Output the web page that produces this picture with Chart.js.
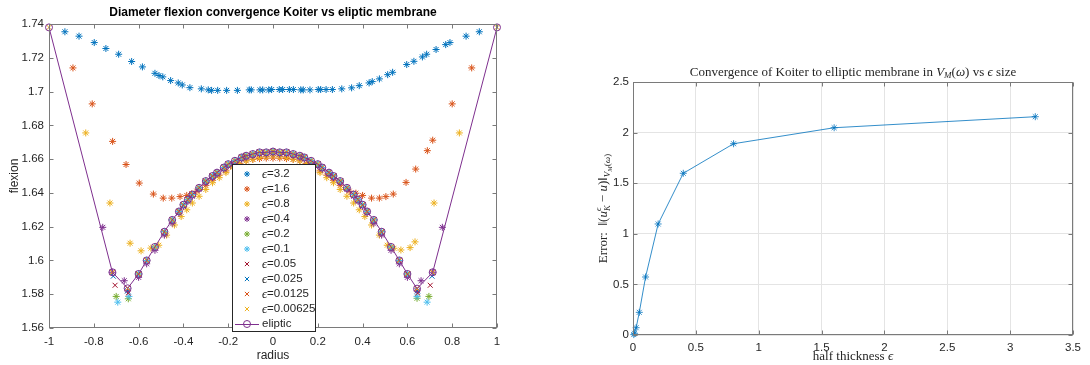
<!DOCTYPE html>
<html>
<head>
<meta charset="UTF-8">
<title>Koiter vs eliptic membrane</title>
<script src="https://cdn.jsdelivr.net/npm/chart.js"></script>
<style>
    body { margin: 0; background: #fff; width: 1090px; height: 365px; overflow: hidden; position: relative; }
    #left { position: absolute; left: 0; top: 0; }
    #right { position: absolute; left: 560px; top: 0; }
</style>
</head>
<body>
<canvas id="left" width="520" height="365"></canvas>
<canvas id="right" width="530" height="365"></canvas>
<script>
const SANS = '"Liberation Sans", Arial, sans-serif';
const SERIF = '"Liberation Serif", "DejaVu Serif", serif';
const AXIS = '#262626';

// ---------- left plot: diameter flexion ----------
const xTicksLeft = [-1, -0.8, -0.6, -0.4, -0.2, 0, 0.2, 0.4, 0.6, 0.8, 1];
const yTicksLeft = [1.56, 1.58, 1.6, 1.62, 1.64, 1.66, 1.68, 1.7, 1.72, 1.74];

// eps = 3.2
const x32 = [-0.929, -0.866, -0.798, -0.746, -0.689, -0.631, -0.583, -0.527, -0.509, -0.492,
             -0.457, -0.423, -0.405, -0.371, -0.320, -0.289, -0.274, -0.247, -0.207, -0.159,
             -0.106, -0.097, -0.058, -0.046, -0.019, -0.006, 0.028, 0.043, 0.073, 0.091,
             0.124, 0.135, 0.165, 0.202, 0.213, 0.237, 0.265, 0.307, 0.351, 0.385,
             0.429, 0.443, 0.475, 0.512, 0.534, 0.597, 0.629, 0.667, 0.686, 0.728,
             0.771, 0.790, 0.862, 0.921];
const y32 = [1.7354, 1.7328, 1.7290, 1.7255, 1.7221, 1.7178, 1.7146, 1.7108, 1.7095, 1.7087,
             1.7065, 1.7051, 1.7039, 1.7023, 1.7016, 1.7010, 1.7007, 1.7007, 1.7007, 1.7007,
             1.7010, 1.7010, 1.7010, 1.7010, 1.7010, 1.7012, 1.7012, 1.7012, 1.7012, 1.7012,
             1.7010, 1.7010, 1.7010, 1.7012, 1.7012, 1.7012, 1.7012, 1.7016, 1.7022, 1.7035,
             1.7051, 1.7059, 1.7075, 1.7100, 1.7114, 1.7160, 1.7179, 1.7205, 1.7221, 1.7249,
             1.7278, 1.7290, 1.7328, 1.7354];

// eps = 1.6
const x16 = [-0.893, -0.807, -0.716, -0.656, -0.597, -0.534, -0.490, -0.452, -0.415, -0.385,
             -0.363, -0.340, -0.300, -0.270, -0.240, -0.210, -0.180, -0.150, -0.120, -0.090,
             -0.060, -0.030, 0.000, 0.030, 0.060, 0.090, 0.120, 0.150, 0.180, 0.210,
             0.240, 0.270, 0.300, 0.340, 0.370, 0.400, 0.440, 0.475, 0.504, 0.537,
             0.594, 0.637, 0.689, 0.713, 0.800, 0.887];
const y16 = [1.7140, 1.6927, 1.6705, 1.6568, 1.6458, 1.6393, 1.6369, 1.6369, 1.6378, 1.6385,
             1.6395, 1.6410, 1.6445, 1.6475, 1.6505, 1.6530, 1.6555, 1.6575, 1.6590, 1.6598,
             1.6603, 1.6606, 1.6606, 1.6606, 1.6603, 1.6598, 1.6590, 1.6575, 1.6555, 1.6530,
             1.6505, 1.6475, 1.6445, 1.6410, 1.6398, 1.6385, 1.6369, 1.6369, 1.6378, 1.6393,
             1.6462, 1.6541, 1.6650, 1.6712, 1.6927, 1.7140];

// eps = 0.8
const x08 = [-0.836, -0.728, -0.638, -0.589, -0.545, -0.510, -0.475, -0.440, -0.410, -0.385,
             -0.360, -0.330, -0.300, -0.270, -0.240, -0.210, -0.180, -0.150, -0.120, -0.090,
             -0.060, -0.030, 0.000, 0.030, 0.060, 0.090, 0.120, 0.150, 0.180, 0.210,
             0.240, 0.270, 0.300, 0.330, 0.360, 0.385, 0.410, 0.440, 0.475, 0.510,
             0.540, 0.571, 0.612, 0.634, 0.719, 0.832];
const y08 = [1.6755, 1.6340, 1.6102, 1.6057, 1.6073, 1.609, 1.615, 1.621, 1.626, 1.630,
             1.634, 1.638, 1.642, 1.646, 1.649, 1.652, 1.655, 1.657, 1.659, 1.660,
             1.661, 1.6615, 1.662, 1.6615, 1.661, 1.660, 1.659, 1.657, 1.655, 1.652,
             1.649, 1.646, 1.642, 1.638, 1.634, 1.630, 1.626, 1.621, 1.615, 1.609,
             1.6072, 1.6062, 1.6076, 1.611, 1.634, 1.6755];

// inner arc nodes shared by the thin shells and the elliptic solution
const arcX = [-0.600, -0.564, -0.527, -0.485, -0.450, -0.420, -0.400, -0.380, -0.360, -0.330,
              -0.300, -0.270, -0.250, -0.220, -0.200, -0.170, -0.140, -0.120, -0.090, -0.060,
              -0.030, 0.000, 0.030, 0.060, 0.090, 0.120, 0.140, 0.170, 0.200, 0.220,
              0.250, 0.270, 0.300, 0.330, 0.360, 0.380, 0.400, 0.420, 0.450, 0.485,
              0.527, 0.564, 0.600];
const arcY = [1.592, 1.600, 1.608, 1.617, 1.624, 1.629, 1.633, 1.636, 1.639, 1.643,
              1.647, 1.650, 1.652, 1.655, 1.657, 1.659, 1.661, 1.662, 1.663, 1.664,
              1.664, 1.6645, 1.664, 1.664, 1.663, 1.662, 1.661, 1.659, 1.657, 1.655,
              1.652, 1.650, 1.647, 1.643, 1.639, 1.636, 1.633, 1.629, 1.624, 1.617,
              1.608, 1.600, 1.592];
const arc04Y = [1.590, 1.598, 1.606, 1.615, 1.622, 1.628, 1.632, 1.635, 1.638, 1.642,
                1.646, 1.649, 1.651, 1.654, 1.656, 1.658, 1.660, 1.661, 1.662, 1.663,
                1.663, 1.6635, 1.663, 1.663, 1.662, 1.661, 1.660, 1.658, 1.656, 1.654,
                1.651, 1.649, 1.646, 1.642, 1.638, 1.635, 1.632, 1.628, 1.622, 1.615,
                1.606, 1.598, 1.590];

const x04 = [-0.760, -0.717, -0.664, -0.649, ...arcX, 0.643, 0.661, 0.713, 0.756];
const y04 = [1.6196, 1.593, 1.588, 1.582, ...arc04Y, 1.582, 1.588, 1.593, 1.6196];
const x02 = [-0.700, -0.646, ...arcX, 0.643, 0.696];
const y02 = [1.5787, 1.5773, ...arcY, 1.5776, 1.5787];
const x01 = [-0.693, -0.643, ...arcX, 0.643, 0.688];
const y01 = [1.5753, 1.5787, ...arcY, 1.5787, 1.5753];
const x005 = [-0.705, -0.646, ...arcX, 0.646, 0.702];
const y005 = [1.5853, 1.5807, ...arcY, 1.5807, 1.5853];
const x0025 = [-0.713, -0.649, ...arcX, 0.646, 0.710];
const y0025 = [1.5907, 1.582, ...arcY, 1.582, 1.5907];
const x00125 = [-0.717, -0.649, ...arcX, 0.643, 0.713];
const y00125 = [1.5928, 1.5835, ...arcY, 1.5833, 1.5928];
const xEl = [-1, -0.717, -0.649, ...arcX, 0.643, 0.713, 1];
const yEl = [1.738, 1.593, 1.5835, ...arcY, 1.5833, 1.593, 1.738];

const series = [
    { label: '3.2', color: '#0072BD', style: 'star', x: x32, y: y32 },
    { label: '1.6', color: '#D95319', style: 'star', x: x16, y: y16 },
    { label: '0.8', color: '#EDB120', style: 'star', x: x08, y: y08 },
    { label: '0.4', color: '#7E2F8E', style: 'star', x: x04, y: y04 },
    { label: '0.2', color: '#77AC30', style: 'star', x: x02, y: y02 },
    { label: '0.1', color: '#4DBEEE', style: 'star', x: x01, y: y01 },
    { label: '0.05', color: '#A2142F', style: 'crossRot', x: x005, y: y005 },
    { label: '0.025', color: '#0072BD', style: 'crossRot', x: x0025, y: y0025 },
    { label: '0.0125', color: '#D95319', style: 'crossRot', x: x00125, y: y00125 },
    { label: '0.00625', color: '#EDB120', style: 'crossRot', x: xEl, y: yEl }
];
const elipticColor = '#7E2F8E';

// ---------- right plot: error vs half thickness ----------
const epsValues = [0.00625, 0.0125, 0.025, 0.05, 0.1, 0.2, 0.4, 0.8, 1.6, 3.2];
const errValues = [0.004, 0.017, 0.072, 0.224, 0.573, 1.097, 1.598, 1.89, 2.048, 2.157];

// ---------- helpers ----------
const fmt = v => String(Number(v.toFixed(3)));

function drawMarker(ctx, style, x, y, r, color) {
    ctx.save();
    ctx.strokeStyle = color;
    ctx.lineWidth = 1;
    ctx.beginPath();
    if (style === 'star') {
        ctx.moveTo(x - r, y); ctx.lineTo(x + r, y);
        ctx.moveTo(x, y - r); ctx.lineTo(x, y + r);
    }
    if (style === 'star' || style === 'crossRot') {
        const d = r * 0.7071;
        ctx.moveTo(x - d, y - d); ctx.lineTo(x + d, y + d);
        ctx.moveTo(x - d, y + d); ctx.lineTo(x + d, y - d);
    }
    if (style === 'circle') ctx.arc(x, y, r, 0, Math.PI * 2);
    ctx.stroke();
    ctx.restore();
}

function richWidth(ctx, segs) {
    let w = 0;
    segs.forEach(s => { ctx.font = s.font; if (!s.stack) w += ctx.measureText(s.t).width; });
    return w;
}

function drawRich(ctx, segs, x, y, align) {
    let cx = align === 'left' ? x : x - richWidth(ctx, segs) / 2;
    ctx.textAlign = 'left';
    ctx.textBaseline = 'middle';
    segs.forEach(s => {
        ctx.font = s.font;
        ctx.fillText(s.t, cx, y + (s.dy || 0));
        if (!s.stack) cx += ctx.measureText(s.t).width;
    });
}

// box + inward ticks, like matlab axes
const boxTicks = {
    id: 'boxTicks',
    afterDatasetsDraw(chart) {
        const { ctx, chartArea: a, scales } = chart;
        const len = 4;
        ctx.save();
        ctx.strokeStyle = '#7a7a7a';
        ctx.lineWidth = 1;
        const L = Math.round(a.left) + 0.5, R = Math.round(a.right) - 0.5;
        const T = Math.round(a.top) + 0.5, B = Math.round(a.bottom) - 0.5;
        ctx.strokeRect(L, T, R - L, B - T);
        ctx.beginPath();
        scales.x.ticks.forEach(t => {
            const px = Math.round(scales.x.getPixelForValue(t.value)) + 0.5;
            ctx.moveTo(px, B); ctx.lineTo(px, B - len);
            ctx.moveTo(px, T); ctx.lineTo(px, T + len);
        });
        scales.y.ticks.forEach(t => {
            const py = Math.round(scales.y.getPixelForValue(t.value)) + 0.5;
            ctx.moveTo(L, py); ctx.lineTo(L + len, py);
            ctx.moveTo(R, py); ctx.lineTo(R - len, py);
        });
        ctx.stroke();
        ctx.restore();
    }
};

// texts + legend of the left plot
const leftDecor = {
    id: 'leftDecor',
    afterDraw(chart) {
        const ctx = chart.ctx;
        const a = chart.chartArea;
        const cx = (a.left + a.right) / 2;
        ctx.save();
        ctx.fillStyle = '#000';
        ctx.font = 'bold 12px ' + SANS;
        ctx.textAlign = 'center';
        ctx.textBaseline = 'middle';
        ctx.fillText('Diameter flexion convergence Koiter vs eliptic membrane', cx, 13);
        ctx.fillStyle = AXIS;
        ctx.font = '12px ' + SANS;
        ctx.fillText('radius', cx, 356);
        ctx.translate(15, (a.top + a.bottom) / 2);
        ctx.rotate(-Math.PI / 2);
        ctx.fillText('flexion', 0, 0);
        ctx.restore();

        // legend
        const bx = 232, by = 164, bw = 83, bh = 167, row = 15;
        ctx.save();
        ctx.fillStyle = '#fff';
        ctx.fillRect(bx, by, bw, bh);
        ctx.strokeStyle = '#262626';
        ctx.lineWidth = 1;
        ctx.strokeRect(bx + 0.5, by + 0.5, bw, bh);
        ctx.fillStyle = AXIS;
        series.forEach((s, i) => {
            const y = by + 10 + i * row;
            drawMarker(ctx, s.style, 247, y, 3, s.color);
            drawRich(ctx, [
                { t: 'ϵ', font: 'italic 12.5px ' + SERIF, dy: 1 },
                { t: '=' + s.label, font: '11.5px ' + SANS }
            ], 262, y, 'left');
        });
        const ye = by + 10 + series.length * row;
        ctx.strokeStyle = elipticColor;
        ctx.beginPath();
        ctx.moveTo(235, ye + 0.5); ctx.lineTo(259, ye + 0.5);
        ctx.stroke();
        drawMarker(ctx, 'circle', 247, ye, 3.5, elipticColor);
        ctx.font = '11.5px ' + SANS;
        ctx.textAlign = 'left';
        ctx.fillText('eliptic', 262, ye);
        ctx.restore();
    }
};

// texts of the right plot
const rightDecor = {
    id: 'rightDecor',
    afterDraw(chart) {
        const ctx = chart.ctx;
        const a = chart.chartArea;
        const cx = (a.left + a.right) / 2;
        const f = (s, it) => (it ? 'italic ' : '') + s + 'px ' + SERIF;
        ctx.save();
        ctx.fillStyle = AXIS;
        drawRich(ctx, [
            { t: 'Convergence of Koiter to elliptic membrane in ', font: f(13) },
            { t: 'V', font: f(13, true) },
            { t: 'M', font: f(9, true), dy: 3 },
            { t: '(', font: f(13) },
            { t: 'ω', font: f(13, true) },
            { t: ') vs ', font: f(13) },
            { t: 'ϵ', font: f(13, true) },
            { t: ' size', font: f(13) }
        ], cx, 73);
        drawRich(ctx, [
            { t: 'half thickness ', font: f(13) },
            { t: 'ϵ', font: f(13, true) }
        ], cx, 357);
        ctx.translate(44, (a.top + a.bottom) / 2);
        ctx.rotate(-Math.PI / 2);
        drawRich(ctx, [
            { t: 'Error:  ‖(', font: f(13) },
            { t: 'u', font: f(13, true) },
            { t: 'ϵ', font: f(8.5, true), dy: -5, stack: true },
            { t: 'K', font: f(8.5, true), dy: 4 },
            { t: ' − ', font: f(13) },
            { t: 'u', font: f(13, true) },
            { t: ')‖', font: f(13) },
            { t: 'V', font: f(9, true), dy: 4 },
            { t: 'M', font: f(6.5, true), dy: 6 },
            { t: '(', font: f(9), dy: 4 },
            { t: 'ω', font: f(9, true), dy: 4 },
            { t: ')', font: f(9), dy: 4 }
        ], 0, 0);
        ctx.restore();
    }
};

// ---------- left chart ----------
const leftSets = series.map((s, i) => ({
    label: 'ϵ=' + s.label,
    data: s.x.map((x, k) => ({ x: x, y: s.y[k] })),
    pointStyle: s.style,
    pointRadius: 3.5,
    pointBorderWidth: 1,
    borderColor: s.color,
    backgroundColor: s.color,
    showLine: false,
    clip: false,
    order: -i
}));
leftSets.push({
    label: 'eliptic',
    data: xEl.map((x, k) => ({ x: x, y: yEl[k] })),
    showLine: true,
    borderWidth: 1,
    borderColor: elipticColor,
    backgroundColor: 'rgba(0,0,0,0)',
    pointStyle: 'circle',
    pointRadius: 3.5,
    pointBorderWidth: 1,
    clip: false,
    order: -20
});

new Chart(document.getElementById('left'), {
    type: 'scatter',
    data: { datasets: leftSets },
    options: {
        responsive: false,
        animation: false,
        events: [],
        layout: { padding: { left: 0, right: 23, top: 24, bottom: 0 } },
        plugins: { legend: { display: false }, tooltip: { enabled: false } },
        scales: {
            x: {
                type: 'linear', min: -1, max: 1,
                afterBuildTicks: s => { s.ticks = xTicksLeft.map(v => ({ value: v })); },
                afterFit: s => { s.height = 37; },
                grid: { display: false, drawTicks: false },
                border: { display: false },
                ticks: { callback: v => fmt(v), color: AXIS, padding: 7, font: { family: SANS, size: 11.5 }, maxRotation: 0 }
            },
            y: {
                type: 'linear', min: 1.56, max: 1.74,
                afterBuildTicks: s => { s.ticks = yTicksLeft.map(v => ({ value: v })); },
                afterFit: s => { s.width = 49; },
                grid: { display: false, drawTicks: false },
                border: { display: false },
                ticks: { callback: v => fmt(v), color: AXIS, padding: 5, font: { family: SANS, size: 11.5 } }
            }
        }
    },
    plugins: [boxTicks, leftDecor]
});

// ---------- right chart ----------
new Chart(document.getElementById('right'), {
    type: 'scatter',
    data: {
        datasets: [{
            data: epsValues.map((e, k) => ({ x: e, y: errValues[k] })),
            showLine: true,
            borderColor: 'rgba(0,114,189,0.8)',
            backgroundColor: 'rgba(0,114,189,0.8)',
            borderWidth: 1,
            pointStyle: 'star',
            pointRadius: 3.5,
            pointBorderWidth: 1,
            clip: false
        }]
    },
    options: {
        responsive: false,
        animation: false,
        events: [],
        layout: { padding: { left: 0, right: 17, top: 82, bottom: 0 } },
        plugins: { legend: { display: false }, tooltip: { enabled: false } },
        scales: {
            x: {
                type: 'linear', min: 0, max: 3.5,
                ticks: { stepSize: 0.5, callback: v => fmt(v), color: AXIS, padding: 6, font: { family: SANS, size: 11.5 }, maxRotation: 0 },
                afterFit: s => { s.height = 30; },
                grid: { color: '#e4e4e4', drawTicks: false },
                border: { display: false }
            },
            y: {
                type: 'linear', min: 0, max: 2.5,
                ticks: { stepSize: 0.5, callback: v => fmt(v), color: AXIS, padding: 4, font: { family: SANS, size: 11.5 } },
                afterFit: s => { s.width = 73; },
                grid: { color: '#e4e4e4', drawTicks: false },
                border: { display: false }
            }
        }
    },
    plugins: [boxTicks, rightDecor]
});
</script>
</body>
</html>
